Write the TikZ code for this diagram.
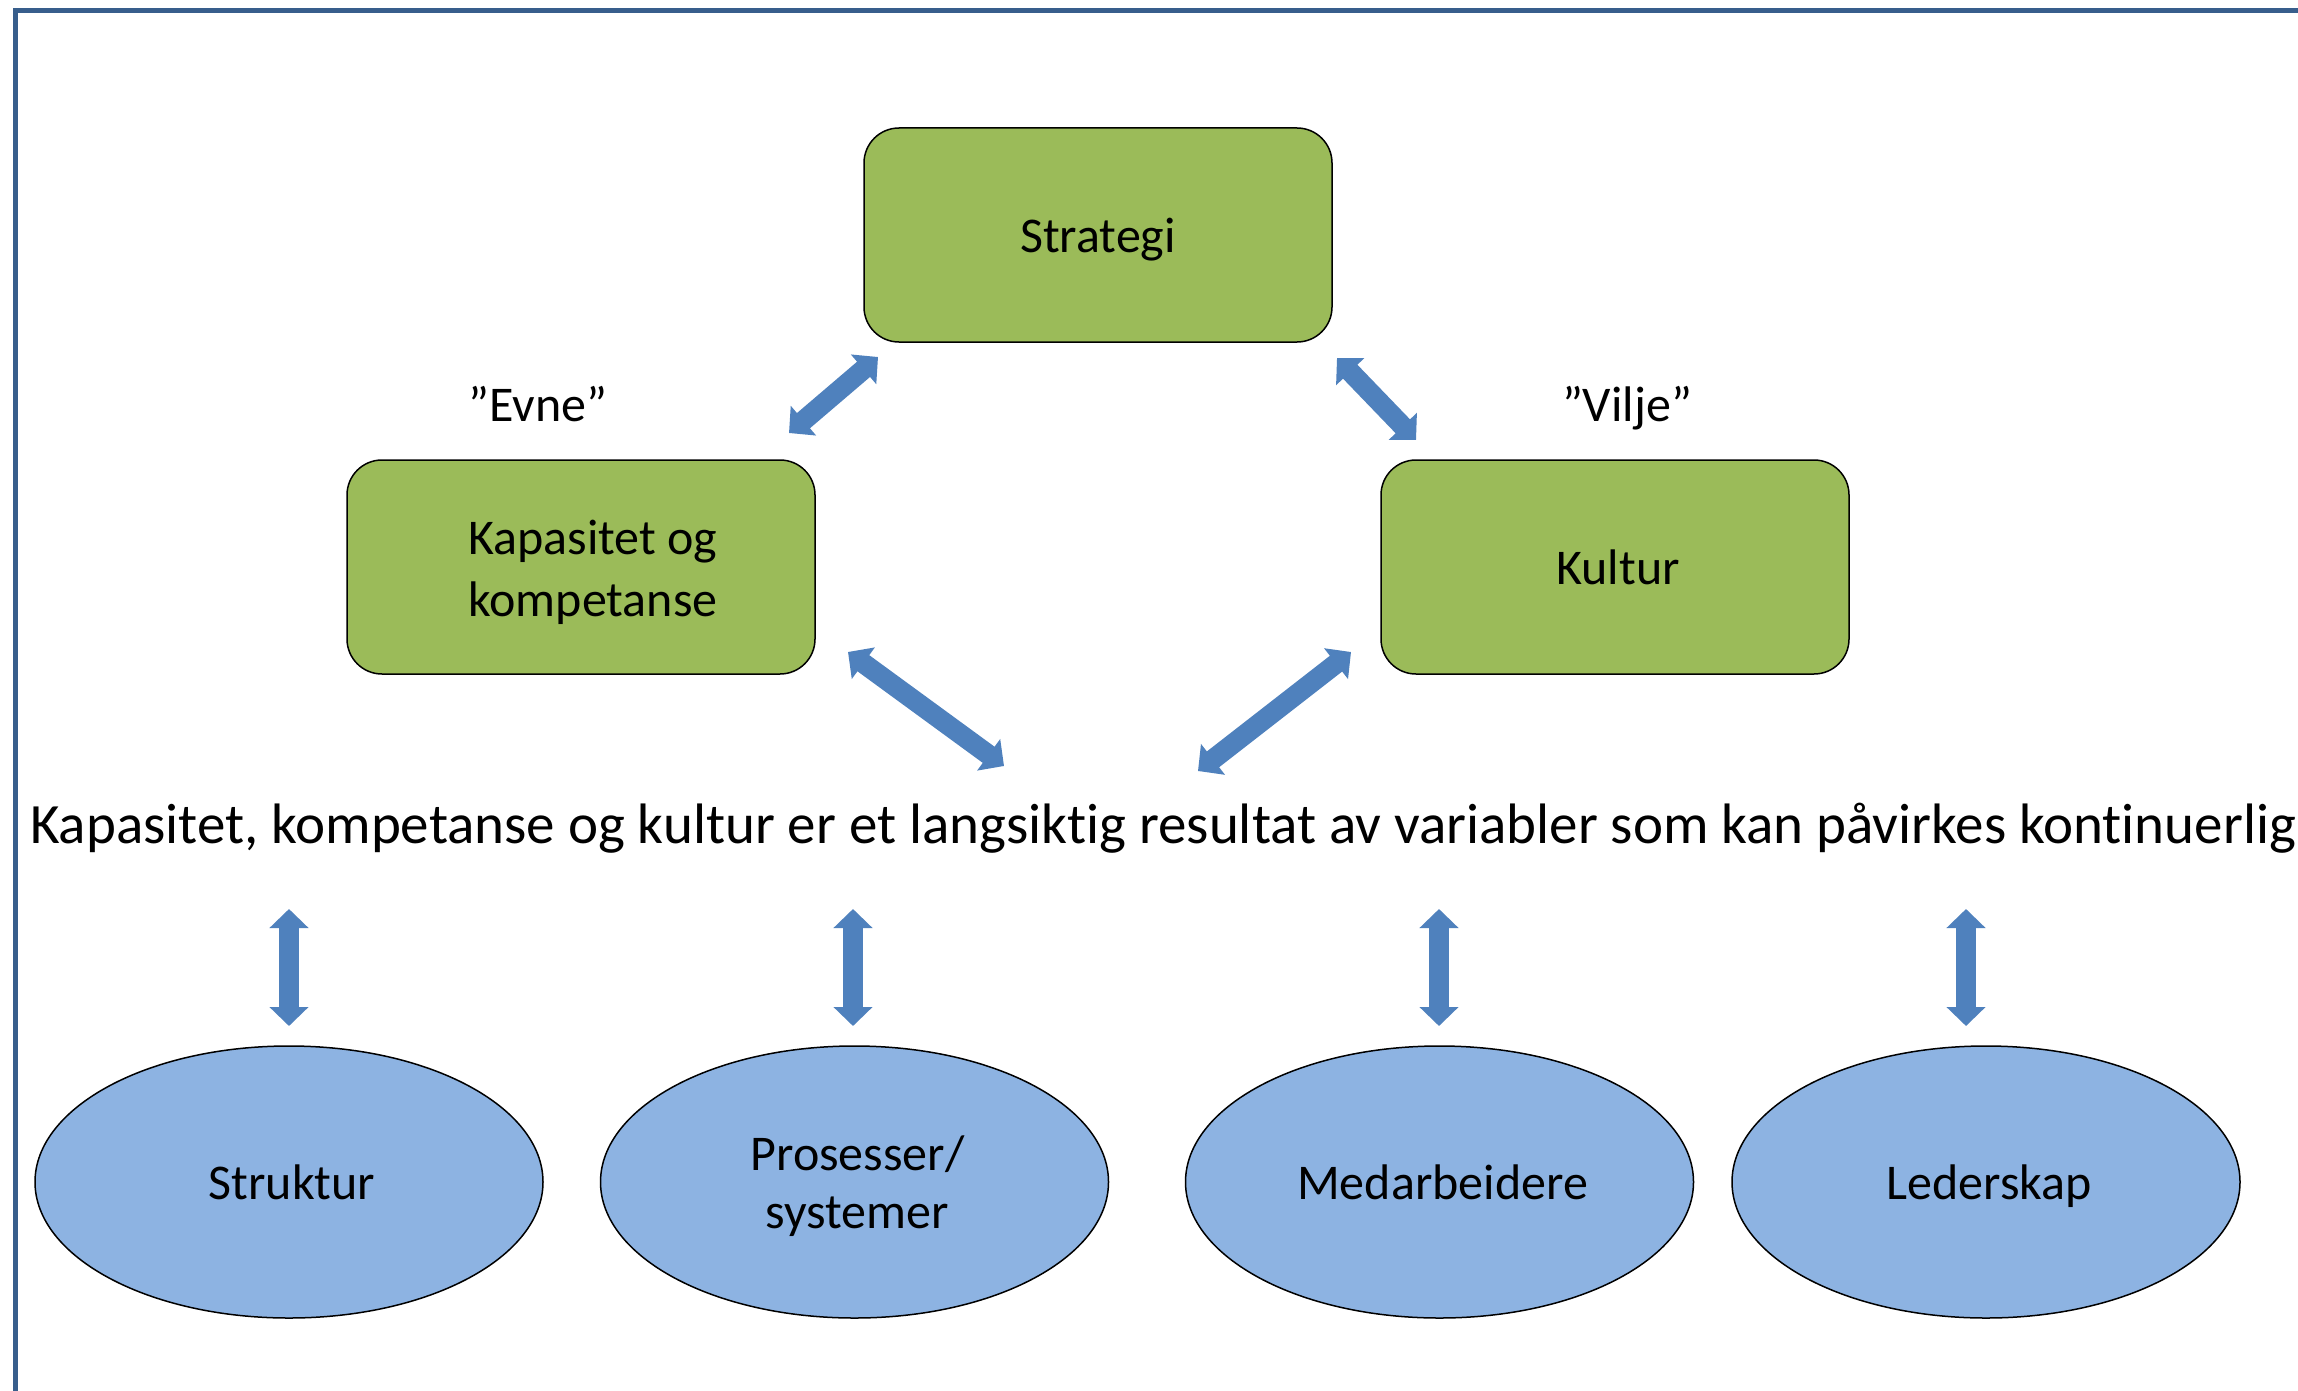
\documentclass[tikz,border=0pt]{standalone}
\usepackage{fontspec}
\setmainfont{Carlito}[Ligatures=CommonOff]
\usetikzlibrary{arrows.meta,shapes.geometric}
\definecolor{framec}{RGB}{56,94,140}
\definecolor{boxgreen}{RGB}{155,187,89}
\definecolor{ellblue}{RGB}{141,179,226}
\definecolor{arrowblue}{RGB}{79,129,189}
\tikzset{
  greenbox/.style={draw=black, line width=1.5pt, fill=boxgreen, rounded corners=35pt,
    minimum width=468pt, minimum height=214pt, inner sep=0pt, font=\fontsize{50}{62}\selectfont, align=center},
  ellnode/.style={ellipse, draw=black, line width=1.5pt, fill=ellblue,
    minimum width=508pt, minimum height=272pt, inner sep=0pt, font=\fontsize{50}{58}\selectfont, align=center},
  oneline/.style={text height=35pt, text depth=0pt},
  lbl/.style={font=\fontsize{50}{62}\selectfont, inner sep=0pt},
  bigarrow/.style={draw=arrowblue, line width=20pt,
    {Triangle[width=38pt,length=19pt]}-{Triangle[width=38pt,length=19pt]}},
}
\begin{document}
\begin{tikzpicture}[x=1pt,y=-1pt]
\useasboundingbox (0,0) rectangle (2298,1391);
\fill[white] (0,0) rectangle (2298,1391);
\draw[framec, line width=5pt] (15.5,1391) -- (15.5,11) -- (2298,11);

% boxes
\node[greenbox, oneline] (strategi) at (1098,235) {Strategi};
\node[greenbox] (kap) at (581,567) {\rule{0pt}{46pt}\hspace*{24pt}Kapasitet og\\\hspace*{24pt}kompetanse};
\node[greenbox, oneline] (kultur) at (1615,567) {\hspace*{6pt}Kultur};

% labels
\node[lbl, anchor=base] (evne) at (538,421) {”Evne”};
\node[lbl, anchor=base] (vilje) at (1627,421) {”Vilje”};
\node[lbl, anchor=base, font=\fontsize{57}{68}\selectfont] (main) at (1163,843) {Kapasitet, kompetanse og kultur er et langsiktig resultat av variabler som kan påvirkes kontinuerlig};

% ellipses
\node[ellnode, oneline] (struktur) at (289,1182) {\hspace*{6pt}Struktur};
\node[ellnode] (prosesser) at (854.5,1182) {\rule{0pt}{44pt}\hspace*{6pt}Prosesser/\\\hspace*{6pt}systemer};
\node[ellnode, oneline] (medarb) at (1439.5,1182) {\hspace*{6pt}Medarbeidere};
\node[ellnode, oneline] (leder) at (1986,1182) {\hspace*{6pt}Lederskap};

% arrow end points
\coordinate (a1k) at (789,433);  \coordinate (a1s) at (878,357);
\coordinate (a2s) at (1337,358); \coordinate (a2k) at (1416,440);
\coordinate (a3k) at (848,652);  \coordinate (a3m) at (1004,766);
\coordinate (a4k) at (1351,652); \coordinate (a4m) at (1198,771);
\coordinate (v1t) at (289,909);  \coordinate (v1b) at (289,1026);
\coordinate (v2t) at (853,909);  \coordinate (v2b) at (853,1026);
\coordinate (v3t) at (1439,909); \coordinate (v3b) at (1439,1026);
\coordinate (v4t) at (1966,909); \coordinate (v4b) at (1966,1026);

\draw[bigarrow] (a1k) -- (a1s);
\draw[bigarrow] (a2s) -- (a2k);
\draw[bigarrow] (a3k) -- (a3m);
\draw[bigarrow] (a4k) -- (a4m);
\draw[bigarrow] (v1t) -- (v1b);
\draw[bigarrow] (v2t) -- (v2b);
\draw[bigarrow] (v3t) -- (v3b);
\draw[bigarrow] (v4t) -- (v4b);
\end{tikzpicture}
\end{document}
